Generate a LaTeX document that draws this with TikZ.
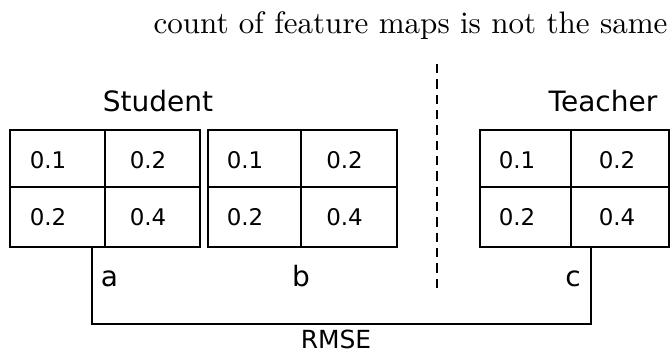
\documentclass[tikz,border=0pt]{standalone}
\usepackage{fontspec}
\newfontfamily\dv{DejaVu Sans}
\newfontfamily\lmten{lmroman10-regular}[Extension=.otf]
\begin{document}
\begin{tikzpicture}[x=0.75pt,y=-0.75pt,
  ln/.style={line width=1.5pt},
  grid/.style={draw,line width=1.5pt,inner sep=0pt,outer sep=0pt,minimum height=88.1pt},
  num/.style={font=\dv\fontsize{17.2pt}{20pt}\selectfont,inner sep=0pt,anchor=center},
  lab/.style={font=\dv\fontsize{21pt}{24pt}\selectfont,inner sep=0pt,anchor=base},
  ttl/.style={font=\lmten\fontsize{23.3pt}{27pt}\selectfont,inner sep=0pt,anchor=base}]
\useasboundingbox (0,0) rectangle (672,352);
% title
\node[ttl] (title) at (410.5,34) {count of feature maps is not the same};
% headings
\node[lab] (student) at (158,112) {Student};
\node[lab] (teacher) at (603,112) {Teacher};
% grids
\node[grid,minimum width=142.5pt] (g1) at (105,188.25) {};
\node[grid,minimum width=141.75pt] (g2) at (302.5,188.25) {};
\node[grid,minimum width=141.75pt] (g3) at (574.5,188.25) {};
\draw[ln] (105,129.5) -- (105,247);
\draw[ln] (10,187.5) -- (200,187.5);
\draw[ln] (301,129.5) -- (301,247);
\draw[ln] (208,187.5) -- (397,187.5);
\draw[ln] (571,129.5) -- (571,247);
\draw[ln] (480,187.5) -- (669,187.5);
% numbers
\node[num] (a11) at (48,160) {0.1};
\node[num] (a12) at (148,160) {0.2};
\node[num] (a21) at (48,217) {0.2};
\node[num] (a22) at (148,217) {0.4};
\node[num] (b11) at (245,160) {0.1};
\node[num] (b12) at (344.5,160) {0.2};
\node[num] (b21) at (245,217) {0.2};
\node[num] (b22) at (344.5,217) {0.4};
\node[num] (c11) at (517,160) {0.1};
\node[num] (c12) at (617,160) {0.2};
\node[num] (c21) at (517,217) {0.2};
\node[num] (c22) at (617,217) {0.4};
% labels a b c
\node[lab] (la) at (109.5,287) {a};
\node[lab] (lb) at (301,287) {b};
\node[lab] (lc) at (573,287) {c};
% dashed separator
\coordinate (d1) at (437,64);
\coordinate (d2) at (437,290);
\draw[line width=1.5pt,dash pattern=on 7pt off 4.5pt] (d1) -- (d2);
% RMSE bracket
\coordinate (ba) at (92,324);
\coordinate (bc) at (591,324);
\draw[ln] (g1.south -| ba) -- (ba) -- (bc) -- (g3.south -| bc);
\node[font=\dv\fontsize{18.7pt}{22pt}\selectfont,inner sep=0pt,anchor=base,text depth=0pt] (rmse) at (336,349) {RMSE};
\end{tikzpicture}
\end{document}
